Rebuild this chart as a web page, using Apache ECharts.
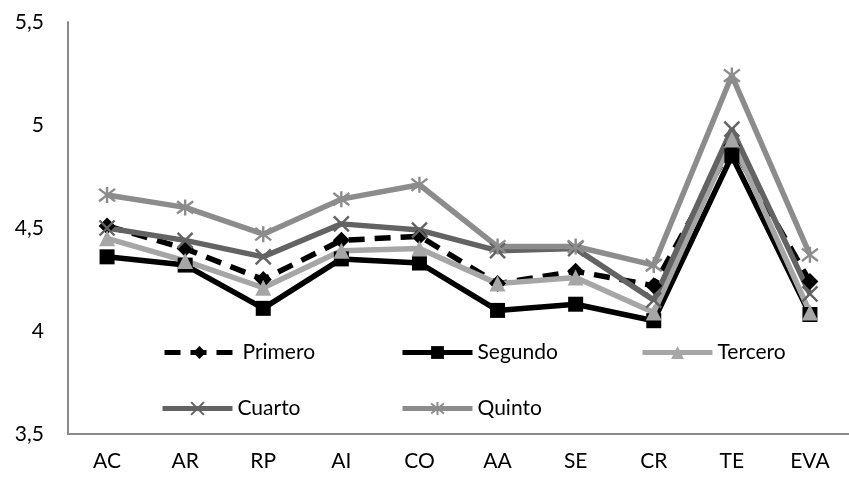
<!DOCTYPE html>
<html>
<head>
<meta charset="utf-8">
<script src="https://cdn.jsdelivr.net/npm/echarts@6/dist/echarts.min.js"></script>
<style>html,body{margin:0;padding:0;background:#fff}#c{width:849px;height:478px}</style>
</head>
<body>
<div id="c"></div>
<script>
const categories = ['AC','AR','RP','AI','CO','AA','SE','CR','TE','EVA'];
const primero = [4.51, 4.40, 4.25, 4.44, 4.46, 4.23, 4.29, 4.22, 4.90, 4.24];
const segundo = [4.36, 4.32, 4.11, 4.35, 4.33, 4.10, 4.13, 4.05, 4.85, 4.08];
const tercero = [4.45, 4.34, 4.21, 4.39, 4.40, 4.23, 4.26, 4.09, 4.93, 4.09];
const cuarto  = [4.50, 4.44, 4.36, 4.52, 4.49, 4.39, 4.40, 4.15, 4.98, 4.18];
const quinto  = [4.66, 4.60, 4.47, 4.64, 4.71, 4.41, 4.41, 4.32, 5.24, 4.37];
const seriesNames = ['Primero','Segundo','Tercero','Cuarto','Quinto'];

const FONT = 'Lato';
const xPath = 'path://M0,0L10,10M10,0L0,10';
const starPath = 'path://M0,0L10,10M10,0L0,10M5,-1.5L5,11.5';

function mk(name, data, color, lineType, symbol, size, stroke) {
  return {
    name, type: 'line', data,
    symbol, symbolSize: size,
    lineStyle: {color, width: 5.5, type: lineType},
    itemStyle: stroke ? {color: 'rgba(0,0,0,0)', borderColor: color, borderWidth: 2.4} : {color},
    emphasis: {disabled: true},
    animation: false
  };
}

const series = [
  mk('Primero', primero, '#000000', [16, 10], 'diamond', 17, false),
  mk('Segundo', segundo, '#000000', 'solid', 'rect', 15, false),
  mk('Tercero', tercero, '#a6a6a6', 'solid', 'triangle', 16, false),
  mk('Cuarto', cuarto, '#636363', 'solid', xPath, 15, true),
  mk('Quinto', quinto, '#8c8c8c', 'solid', starPath, 16, true)
];

const legPos = [
  {left: 162, top: 342, pad: 3},
  {left: 400, top: 342, pad: 0},
  {left: 640, top: 342, pad: 0},
  {left: 160, top: 398, pad: 0},
  {left: 400, top: 398, pad: 0}
];
const legends = seriesNames.map((n, i) => ({
  data: [n], left: legPos[i].left, top: legPos[i].top, padding: 0,
  itemWidth: 70, itemHeight: 16, selectedMode: false,
  lineStyle: {width: 5},
  textStyle: {fontFamily: FONT, fontSize: 21, color: '#000', padding: [0,0,0,legPos[i].pad]}
}));

const chart = echarts.init(document.getElementById('c'), null, {renderer: 'canvas'});
chart.setOption({
  backgroundColor: '#fff',
  animation: false,
  grid: {left: 68, top: 22, width: 792, bottom: 44, containLabel: false},
  legend: legends,
  xAxis: {
    type: 'category', data: categories, boundaryGap: true,
    axisLine: {lineStyle: {color: '#8a8a8a', width: 2}},
    axisTick: {show: false},
    axisLabel: {fontFamily: FONT, fontSize: 21, color: '#000', margin: 17}
  },
  yAxis: {
    type: 'value', min: 3.5, max: 5.5, interval: 0.5,
    axisLine: {show: true, lineStyle: {color: '#8a8a8a', width: 2}},
    axisTick: {show: false},
    splitLine: {show: false},
    axisLabel: {fontFamily: FONT, fontSize: 21, color: '#000', margin: 24,
      formatter: v => String(v).replace('.', ',')}
  },
  series
});
</script>
</body>
</html>
